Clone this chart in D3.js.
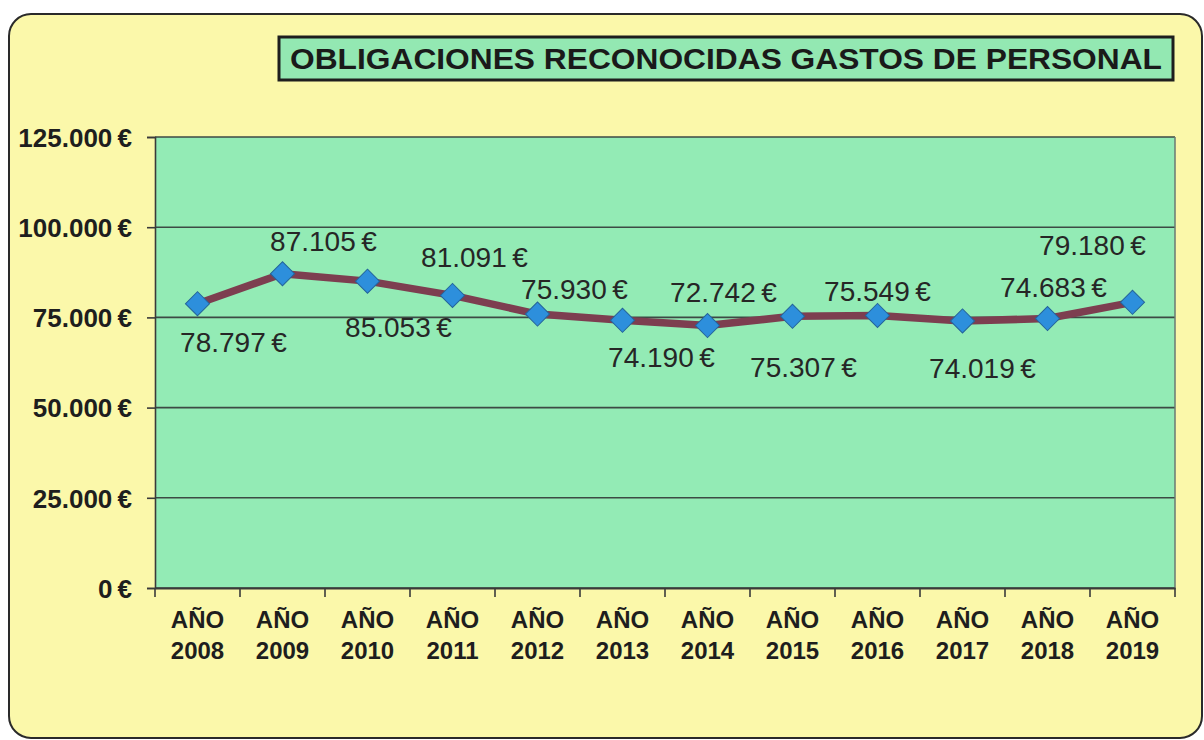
<!DOCTYPE html>
<html>
<head>
<meta charset="utf-8">
<script src="https://cdn.jsdelivr.net/npm/d3@7"></script>
<style>
  html, body { margin: 0; padding: 0; background: #ffffff; }
  svg { display: block; }
</style>
</head>
<body>
<svg id="chart" width="1204" height="740"></svg>
<script>
// ---- data ----
const title = "OBLIGACIONES RECONOCIDAS GASTOS DE PERSONAL";
const years = ["2008","2009","2010","2011","2012","2013","2014","2015","2016","2017","2018","2019"];
const categoryPrefix = "AÑO";
const values = [78797, 87105, 85053, 81091, 75930, 74190, 72742, 75307, 75549, 74019, 74683, 79180];
const yTicks = [0, 25000, 50000, 75000, 100000, 125000];
// label placement (layout, in px, relative to each point)
const labelDx = [36, 41, 31, 22, 37, 39, 16, 11, 0, 20, 6, -40];
const labelDy = [38, -33, 46, -39, -25, 37, -34, 51, -24, 47, -32, -57];

// ---- layout ----
const svg = d3.select("#chart");
const plot = { left: 155, right: 1175, top: 137, bottom: 588 };
const boldFont = "'Liberation Sans', Arial, sans-serif";

// formatter es-ES style: 78.797 €
const fmt = v => d3.format(",")(v).replace(/,/g, ".") + "\u2009€";

// outer rounded panel
svg.append("rect")
  .attr("x", 9).attr("y", 14).attr("width", 1193).attr("height", 724)
  .attr("rx", 22).attr("ry", 22)
  .attr("fill", "#fbf8aa").attr("stroke", "#2a2a2a").attr("stroke-width", 2);

// title box
svg.append("rect")
  .attr("x", 279).attr("y", 37).attr("width", 894).attr("height", 43)
  .attr("fill", "#93e8b2").attr("stroke", "#1e1e1e").attr("stroke-width", 3);
svg.append("text")
  .attr("x", 290).attr("y", 69)
  .attr("font-family", boldFont)
  .attr("font-weight", "bold")
  .attr("font-size", 29)
  .attr("fill", "#1a1a1a")
  .attr("textLength", 872)
  .attr("lengthAdjust", "spacingAndGlyphs")
  .text(title);

// scales
const x = d3.scaleBand().domain(years).range([plot.left, plot.right]).paddingInner(0).paddingOuter(0);
const y = d3.scaleLinear().domain([0, 125000]).range([plot.bottom, plot.top]);

// plot background
svg.append("rect")
  .attr("x", plot.left).attr("y", plot.top)
  .attr("width", plot.right - plot.left).attr("height", plot.bottom - plot.top)
  .attr("fill", "#93ebb5");

// gridlines
svg.append("g").selectAll("line").data(yTicks).join("line")
  .attr("x1", plot.left).attr("x2", plot.right)
  .attr("y1", d => y(d)).attr("y2", d => y(d))
  .attr("stroke", "#3c4a44").attr("stroke-width", 1.6);

// right border
svg.append("line")
  .attr("x1", plot.right).attr("x2", plot.right)
  .attr("y1", plot.top).attr("y2", plot.bottom)
  .attr("stroke", "#6a7a72").attr("stroke-width", 1.5);

// y axis
const yAxis = d3.axisLeft(y).tickValues(yTicks).tickFormat(fmt).tickSize(8).tickPadding(15);
const gy = svg.append("g").attr("transform", `translate(${plot.left},0)`).call(yAxis);
gy.select(".domain").attr("stroke", "#3a3a3a").attr("stroke-width", 1.6);
gy.selectAll(".tick line").attr("stroke", "#3a3a3a").attr("stroke-width", 1.6);
gy.selectAll(".tick text")
  .attr("font-family", boldFont)
  .attr("font-weight", "bold").attr("font-size", 26).attr("fill", "#1e1e1e")
  .attr("dy", "0.36em");

// x axis
const xAxis = d3.axisBottom(x).tickSize(0).tickFormat("");
const gx = svg.append("g").attr("transform", `translate(0,${plot.bottom})`).call(xAxis);
gx.select(".domain").attr("stroke", "#3a3a3a").attr("stroke-width", 2);
// boundary ticks between categories
const boundaries = years.map(d => x(d)).concat([plot.right]);
svg.append("g").selectAll("line").data(boundaries).join("line")
  .attr("x1", d => d).attr("x2", d => d)
  .attr("y1", plot.bottom).attr("y2", plot.bottom + 9)
  .attr("stroke", "#3a3a3a").attr("stroke-width", 1.6);

// category labels
const catG = svg.append("g")
  .attr("font-family", boldFont)
  .attr("font-weight", "bold").attr("font-size", 24).attr("fill", "#1e1e1e")
  .attr("text-anchor", "middle");
catG.selectAll("text.l1").data(years).join("text").attr("class", "l1")
  .attr("x", d => x(d) + x.bandwidth() / 2).attr("y", 628)
  .text(categoryPrefix);
catG.selectAll("text.l2").data(years).join("text").attr("class", "l2")
  .attr("x", d => x(d) + x.bandwidth() / 2).attr("y", 659)
  .text(d => d);

// line
const pts = years.map((d, i) => ({ year: d, v: values[i], i }));
const line = d3.line().x(d => x(d.year) + x.bandwidth() / 2).y(d => y(d.v));
svg.append("path").datum(pts)
  .attr("d", line)
  .attr("fill", "none").attr("stroke", "#7d3e50").attr("stroke-width", 7.5)
  .attr("stroke-linejoin", "round");

// markers (diamonds)
svg.append("g").selectAll("path").data(pts).join("path")
  .attr("transform", d => `translate(${x(d.year) + x.bandwidth() / 2},${y(d.v)}) rotate(45)`)
  .attr("d", d3.symbol().type(d3.symbolSquare).size(290)())
  .attr("fill", "#2d8fdc").attr("stroke", "#24639a").attr("stroke-width", 1);

// data labels
svg.append("g")
  .attr("font-family", boldFont)
  .attr("font-size", 28).attr("fill", "#262626").attr("text-anchor", "middle")
  .selectAll("text").data(pts).join("text")
  .attr("x", d => x(d.year) + x.bandwidth() / 2 + labelDx[d.i])
  .attr("y", d => y(d.v) + labelDy[d.i])
  .attr("dy", "0.36em")
  .text(d => fmt(d.v));
</script>
</body>
</html>
